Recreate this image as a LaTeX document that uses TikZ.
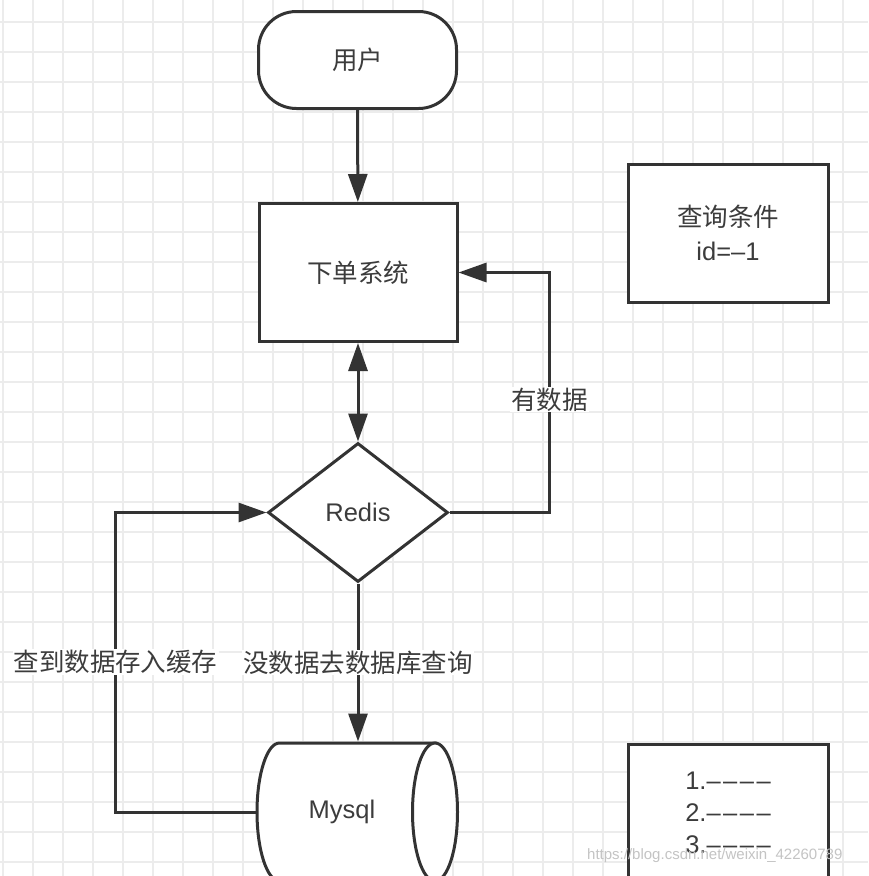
\documentclass[tikz,border=0pt]{standalone}
\usepackage{fontspec}
\setmainfont{Liberation Sans}
\newfontfamily\cjk{Noto Sans CJK SC}
\usepackage{tikz}
\usetikzlibrary{arrows.meta,positioning,shapes.geometric}
\definecolor{cline}{HTML}{333333}
\definecolor{ctext}{HTML}{3C3C3C}
\definecolor{cgrid}{HTML}{ECECEC}
\definecolor{cmark}{HTML}{C4C4C4}
\newcommand{\dsh}{–\kern2.5pt}
\tikzset{
  box/.style={draw=cline, line width=3pt, fill=white, text=ctext, inner sep=0pt, align=center, font=\fontsize{25.5}{34}\selectfont, minimum width=198pt, minimum height=138pt},
  term/.style={box, rounded corners=38pt, minimum height=97pt},
  dec/.style={box, diamond, minimum width=180pt, minimum height=139pt},
  dbtxt/.style={box, draw=none, fill=none, minimum width=170pt},
  dbline/.style={draw=cline, line width=3pt, fill=white},
  pre/.style={-{Triangle[length=28pt,width=19pt]}, draw=cline, line width=3pt},
  lbl/.style={fill=white, text=ctext, inner sep=1pt, font=\cjk\fontsize{25.5}{30}\selectfont},
  gridl/.style={draw=cgrid, line width=1.2pt},
  wmark/.style={text=cmark, inner sep=0pt, font=\fontsize{15}{18}\selectfont},
}

\begin{document}
\begin{tikzpicture}[x=1pt,y=-1pt]
\useasboundingbox (0,0) rectangle (868,876);
\fill[white] (0,0) rectangle (868,876);
% grid paper
\foreach \gx in {3,33,...,843} \draw[gridl] (\gx,0) -- (\gx,876);
\foreach \gy in {22,52,...,862} \draw[gridl] (0,\gy) -- (868,\gy);

\node[term] (user) at (357.5,60) {\cjk 用户};
\node[box] (order) at (358,272.5) {\cjk 下单系统};
\node[dec] (redis) at (358,512.5) {Redis};
% database drum, drawn round its text node
\filldraw[dbline] (435,743) -- (279.5,743) arc[start angle=90, end angle=270, x radius=22.5pt, y radius=69pt] -- (435,881) -- cycle;
\filldraw[dbline] (435,812) ellipse[x radius=22.5pt, y radius=69pt];
\node[dbtxt] (mysql) at (342,812) {Mysql};
\node[box, minimum width=200pt] (cond) at (728,233) {{\cjk 查询条件}\\id=–1};
\node[box, minimum width=200pt, font=\fontsize{25.5}{32}\selectfont] (steps) at (728,813) {1.\dsh\dsh\dsh–\\2.\dsh\dsh\dsh–\\3.\dsh\dsh\dsh–};

\draw[pre] (user) -- (order);
\draw[pre, {Triangle[length=28pt,width=19pt]}-{Triangle[length=28pt,width=19pt]}] (order) -- (redis);
\draw[pre] (redis.east) -- ++(100,0) |- (order.east) node[lbl, pos=0.235] {有数据};
\draw[pre] (redis.south) -- (redis.south |- mysql.north) node[lbl, midway] {没数据去数据库查询};
\draw[pre] (mysql.west) -- ++(-140,0) |- (redis.west) node[lbl, pos=0.25] {查到数据存入缓存};

\node[wmark, anchor=west] (wm) at (587,856) {https://blog.csdn.net/weixin\_42260789};
\end{tikzpicture}
\end{document}
